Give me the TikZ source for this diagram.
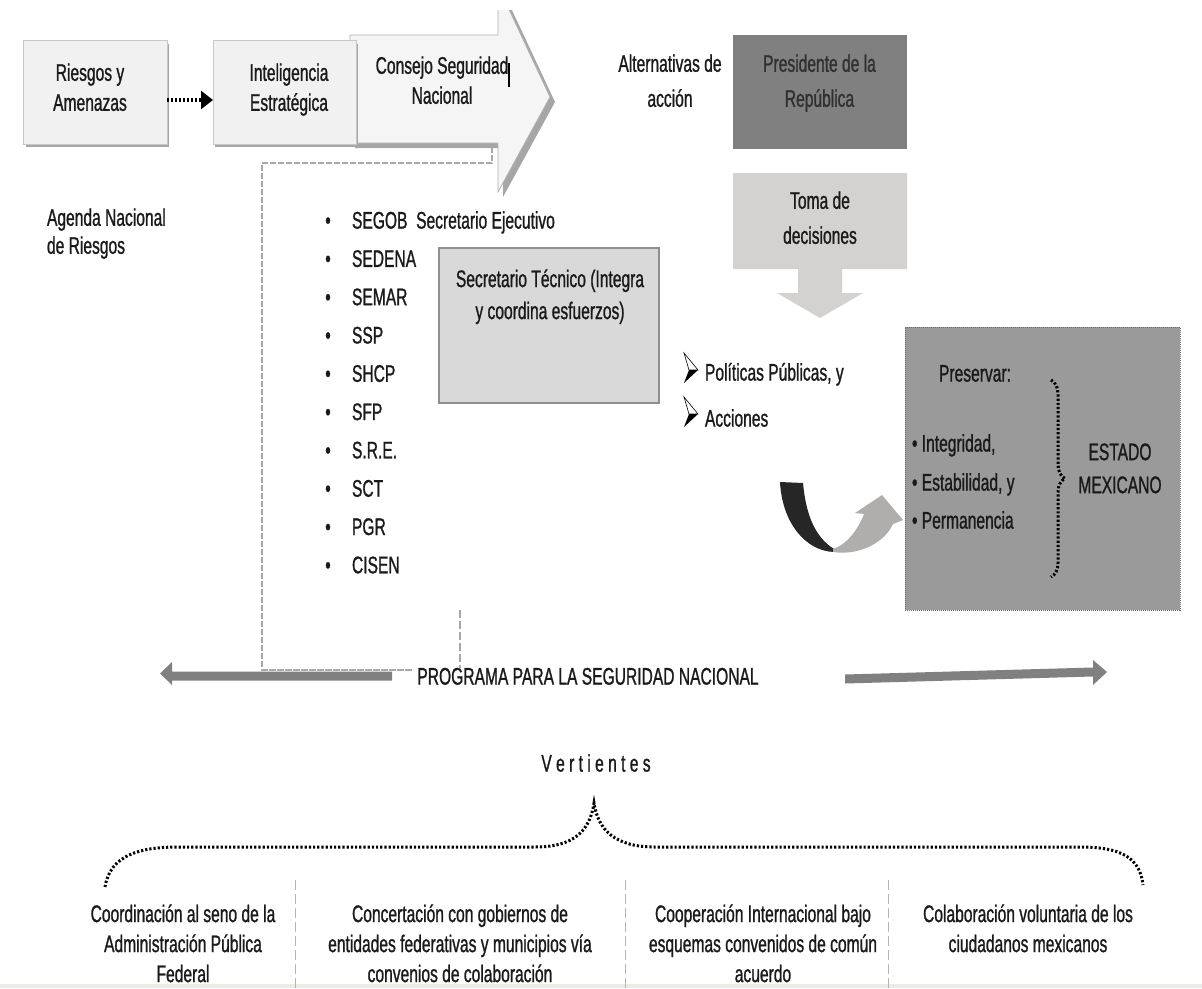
\documentclass[tikz,border=0pt]{standalone}
\usepackage{fontspec}
\setmainfont{Liberation Sans}[FakeStretch=0.65,FakeBold=1]
\usetikzlibrary{arrows.meta,decorations.pathreplacing}
\definecolor{txt}{HTML}{1A1A1A}
\definecolor{boxfill}{HTML}{F1F1F1}
\definecolor{boxdraw}{HTML}{C8C8C8}
\definecolor{shadowgray}{HTML}{A6A6A6}
\definecolor{arrowfill}{HTML}{F5F5F5}
\definecolor{arrowdraw}{HTML}{B0B0B0}
\definecolor{presfill}{HTML}{808080}
\definecolor{prestext}{HTML}{303030}
\definecolor{tomafill}{HTML}{D4D1D1}
\definecolor{secfill}{HTML}{D9D9D9}
\definecolor{secdraw}{HTML}{8F8F8F}
\definecolor{estfill}{HTML}{9A9A9A}
\definecolor{estdraw}{HTML}{6E6E6E}
\definecolor{curveblack}{HTML}{262626}
\definecolor{curvegray}{HTML}{B0ADAD}
\definecolor{progcol}{HTML}{808080}
\definecolor{dashcol}{HTML}{A8A8A8}
\definecolor{sepcol}{HTML}{B4B4B4}
\definecolor{bandcol}{HTML}{ECECE6}
\begin{document}
\begin{tikzpicture}[x=1pt,y=-1pt,
  every node/.style={inner sep=0pt, outer sep=0pt, font=\fontsize{24}{30}\selectfont, text=txt},
  ctext/.style={align=center, anchor=north},
  lightbox/.style={rectangle, fill=boxfill, draw=boxdraw, line width=0.8pt},
  presbox/.style={rectangle, fill=presfill},
  secbox/.style={rectangle, fill=secfill, draw=secdraw, line width=1.6pt},
  estbox/.style={rectangle, fill=estfill, draw=estdraw, line width=1pt, dash pattern=on 1pt off 1pt},
  dotarrow/.style={line width=4.5pt, dash pattern=on 2.2pt off 1.8pt, -{Triangle[length=12pt,width=18pt]}},
  frameline/.style={draw=dashcol, line width=1.8pt, dash pattern=on 6pt off 2pt},
  sepline/.style={draw=sepcol, line width=0.9pt, dash pattern=on 10pt off 4pt},
  bracedots/.style={line width=3pt, dash pattern=on 2.2pt off 2pt, black}
]
\useasboundingbox (0,0) rectangle (1202,988);
\clip (0,0) rectangle (1202,988);

% bottom band
\fill[bandcol] (0,984) rectangle (1202,988);

% Consejo arrow (clipped at top)
\begin{scope}
\clip (0,10) rectangle (1202,988);
\fill[shadowgray] (355,40) -- (503,40) -- (503,-9) -- (555,102) -- (503,197) -- (503,148) -- (355,148) -- cycle;
\filldraw[fill=arrowfill, draw=arrowdraw, line width=0.8pt] (350,35) -- (498,35) -- (498,-14) -- (550,97) -- (498,192) -- (498,143) -- (350,143) -- cycle;
\end{scope}
\draw[line width=1.5pt, black] (509,63) -- (509,87);

% shadows of light boxes
\fill[shadowgray] (26,44) rectangle (169,147);
\fill[shadowgray] (215,44) rectangle (358,147);

% boxes
\node[lightbox, minimum width=144pt, minimum height=104pt] (riesgos) at (95,92) {};
\node[lightbox, minimum width=143pt, minimum height=104pt] (intel) at (284.5,92) {};
\node[presbox, minimum width=174pt, minimum height=114pt] (presidente) at (820,92) {};
\node[secbox, minimum width=220pt, minimum height=155pt] (secretario) at (549,325.5) {};
\node[estbox, minimum width=275pt, minimum height=283pt] (estado) at (1042.5,468.5) {};

% Toma de decisiones block arrow
\fill[tomafill] (733,173) -- (907,173) -- (907,269) -- (842,269) -- (842,293) -- (863,293) -- (820,318) -- (777,293) -- (798,293) -- (798,269) -- (733,269) -- cycle;

% dotted arrow
\draw[dotarrow] ([yshift=-8pt]riesgos.east) -- ([yshift=-8pt]intel.west);

% texts of top row
\node[ctext] (triesgos) at (90,63.4) {Riesgos y\\Amenazas};
\node[ctext] (tintel) at (289,63.4) {Inteligencia\\Estratégica};
\node[ctext] (tconsejo) at (442,56.4) {Consejo Seguridad\\Nacional};
\node[anchor=north west, align=left, font=\fontsize{24}{28}\selectfont] (agenda) at (47,208.4) {Agenda Nacional\\de Riesgos};
\node[ctext, font=\fontsize{24}{35}\selectfont] (alternativas) at (670,54.4) {Alternativas de\\acción};
\node[ctext, font=\fontsize{24}{35}\selectfont, text=prestext] (tpres) at (819.5,54.4) {Presidente de la\\República};
\node[ctext, font=\fontsize{24}{35}\selectfont] (ttoma) at (820,191.4) {Toma de\\decisiones};
\node[ctext, font=\fontsize{24}{32}\selectfont] (tsec) at (550,269.4) {Secretario Técnico (Integra\\y coordina esfuerzos)};

% list of members
\foreach \t [count=\i from 0] in {SEGOB\ \ Secretario Ejecutivo, SEDENA, SEMAR, SSP, SHCP, SFP, S.R.E., SCT, PGR, CISEN} {
  \node[anchor=base] (bul\i) at (328,228.6+38.3*\i) {•};
  \node[anchor=base west] (org\i) at (352,228.6+38.3*\i) {\t};
}

% dashed frame
\draw[frameline] (492,147) -- (492,163) -- (262,163) -- (262,670) -- (413,670);
\draw[draw=dashcol, line width=1.2pt, dash pattern=on 8pt off 3pt] (460,610) -- (460,668);

% politicas
\foreach \y in {353,397} {
  \filldraw[fill=white, draw=black, line width=0.6pt] (684,\y) -- (698,\y+17) -- (689,\y+17) -- cycle;
  \fill[black] (689,\y+17) -- (698,\y+17) -- (684,\y+30) -- cycle;
}
\node[anchor=base west] (politicas) at (705,380.6) {Políticas Públicas, y};
\node[anchor=base west] (acciones) at (705,426.6) {Acciones};

% curved arrow
\fill[curveblack] (780,482) -- (803,483) .. controls (806,515) and (815,537) .. (834,549) -- (834,552) .. controls (805,551) and (782,522) .. cycle;
\fill[curvegray] (833,552) .. controls (860,556) and (885,542) .. (893,524) -- (903,520) -- (882,495) -- (855,513) -- (864,514) .. controls (858,530) and (846,545) .. (833,549) -- cycle;

% estado content
\node[anchor=base] (preservar) at (975,381.6) {Preservar:};
\node[anchor=base west] (integ) at (912,451.6) {• Integridad,};
\node[anchor=base west] (estab) at (912,490.6) {• Estabilidad, y};
\node[anchor=base west] (perm) at (912,528.6) {• Permanencia};
\draw[bracedots, decorate, decoration={brace, amplitude=14pt}] (1051,380) -- (1051,577);
\node[ctext, font=\fontsize{24}{33}\selectfont] (testado) at (1120,443.4) {ESTADO\\MEXICANO};

% programa arrows
\coordinate (progL) at (160,673.5);
\coordinate (progR) at (1107,672);
\fill[progcol] (392,671.5) -- (172,671.5) -- (172,662) -- (progL) -- (172,685) -- (172,680.5) -- (392,680.5) -- cycle;
\fill[progcol] (845,674.5) -- (1093,667.5) -- (1093,660) -- (progR) -- (1093,685) -- (1093,676.5) -- (845,683.5) -- cycle;
\draw[frameline] (262,670) -- (413,670);
\node[anchor=base] (programa) at (588,684.6) {PROGRAMA PARA LA SEGURIDAD NACIONAL};

% vertientes
\node[anchor=base] (vertientes) at (596,771.6) {V e r t i e n t e s};
\coordinate (bl) at (105,887);
\coordinate (bpeak) at (594,803);
\coordinate (br) at (1143,885);
\draw[bracedots] (bl) .. controls (110,855) and (140,847) .. (178,847) -- (535,847) .. controls (575,847) and (590,830) .. (bpeak) .. controls (598,830) and (615,847) .. (655,847) -- (1080,847) .. controls (1120,847) and (1140,857) .. (br);

% separators
\draw[sepline] (295,880) -- (295,988);
\draw[sepline] (625,880) -- (625,988);
\draw[sepline] (888,880) -- (888,988);

% bottom columns
\node[ctext, font=\fontsize{24}{30}\selectfont] (col1) at (183,904.4) {Coordinación al seno de la\\Administración Pública\\Federal};
\node[ctext, font=\fontsize{24}{30}\selectfont] (col2) at (460,904.4) {Concertación con gobiernos de\\entidades federativas y municipios vía\\convenios de colaboración};
\node[ctext, font=\fontsize{24}{30}\selectfont] (col3) at (763,904.4) {Cooperación Internacional bajo\\esquemas convenidos de común\\acuerdo};
\node[ctext, font=\fontsize{24}{30}\selectfont] (col4) at (1028,904.4) {Colaboración voluntaria de los\\ciudadanos mexicanos};
\end{tikzpicture}
\end{document}
